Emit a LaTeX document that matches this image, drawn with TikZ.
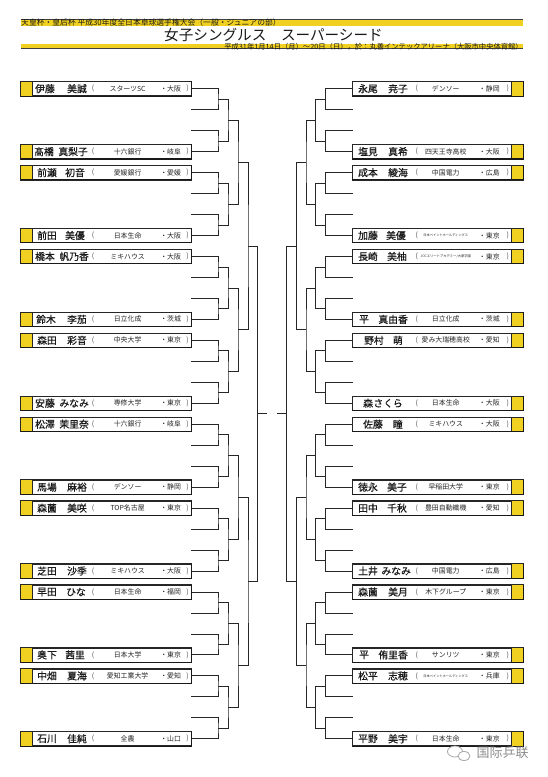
\documentclass[tikz,border=0pt]{standalone}
\usepackage{fontspec}
\setmainfont{Noto Sans CJK JP}
\newfontfamily\namefont[FakeBold=0.6]{Noto Sans CJK JP}
\newfontfamily\scfont{Noto Sans CJK SC}
\usetikzlibrary{calc}
\definecolor{ybox}{RGB}{240,208,32}
\newcommand\fsz[1]{\fontsize{#1}{#1}\selectfont}

% slot, family, given, team, pref, name-left x, name-right x
\newcommand\LPlayer[7]{%
  \pgfmathsetmacro\yy{88.7+20.97*#1}%
  \node[pbox] (Lb#1) at (106.2,\yy) {};
  \fill[ybox] (Lb#1.north west) rectangle ([xshift=11.3pt]Lb#1.south west);
  \draw[edge] ([xshift=11.3pt]Lb#1.north west) -- ([xshift=11.3pt]Lb#1.south west);
  \draw[edge] (Lb#1.north west) rectangle (Lb#1.south east);
  \draw[shadowedge] (Lb#1.south west) -- (Lb#1.south east) -- (Lb#1.north east);
  \node[namet, anchor=west] (Lf#1) at (#6,\yy) {#2};
  \node[namet, anchor=east] (Lg#1) at (#7,\yy) {#3};
  \node[parent] (Lo#1) at ([xshift=72.5pt]Lb#1.west) {(};
  \node[smt] (Lt#1) at ([xshift=107pt]Lb#1.west) {#4};
  \node[smt, anchor=west] (Lp#1) at ([xshift=139.5pt]Lb#1.west) {・#5};
  \node[parent] (Lc#1) at ([xshift=167pt]Lb#1.west) {)};
}
\newcommand\RPlayer[7]{%
  \pgfmathsetmacro\yy{88.7+20.97*#1}%
  \node[pbox] (Rb#1) at (437.85,\yy) {};
  \fill[ybox] ([xshift=-12.3pt]Rb#1.north east) rectangle (Rb#1.south east);
  \draw[edge] ([xshift=-12.3pt]Rb#1.north east) -- ([xshift=-12.3pt]Rb#1.south east);
  \draw[edge] (Rb#1.north west) rectangle (Rb#1.south east);
  \draw[shadowedge] (Rb#1.south west) -- (Rb#1.south east) -- (Rb#1.north east);
  \node[namet, anchor=west] (Rf#1) at (#6,\yy) {#2};
  \node[namet, anchor=east] (Rg#1) at (#7,\yy) {#3};
  \node[parent] (Ro#1) at ([xshift=64.5pt]Rb#1.west) {(};
  \node[smt] (Rt#1) at ([xshift=93.5pt]Rb#1.west) {#4};
  \node[smt, anchor=west] (Rp#1) at ([xshift=126.5pt]Rb#1.west) {・#5};
  \node[parent] (Rc#1) at ([xshift=155.5pt]Rb#1.west) {)};
}

\begin{document}
\begin{tikzpicture}[x=1pt,y=-1pt,
  br/.style={draw=black!85, line width=0.8pt},
  edge/.style={draw=black!85, line width=0.7pt},
  shadowedge/.style={draw=black!90, line width=1.1pt},
  pbox/.style={draw=black!85, fill=white, line width=0.7pt, minimum width=170.5pt, minimum height=14pt, inner sep=0pt},
  namet/.style={font=\namefont\fsz{9.8}, inner sep=0pt, text=black!90},
  smt/.style={font=\fsz{6.9}, inner sep=0pt, text=black!85},
  parent/.style={font=\fsz{7}, inner sep=0pt, text=black!70},
]
\useasboundingbox[fill=white] (0,0) rectangle (548,777);

% ---------- header ----------
\node[fill=ybox, minimum width=502pt, minimum height=6.7pt, inner sep=0pt, anchor=north west] (band1) at (21,19) {};
\draw[black!75, line width=1pt] (band1.north west) -- (band1.north east);
\node[anchor=west, inner sep=0pt, font=\fsz{7.8}, text=black!90] (h1) at (21,22.6) {天皇杯・皇后杯 平成30年度全日本卓球選手権大会（一般・ジュニアの部）};
\node[inner sep=0pt, font=\fsz{14.6}, text=black!90] (title) at (273.5,35.3) {女子シングルス　スーパーシード};
\node[fill=ybox, minimum width=502pt, minimum height=5pt, inner sep=0pt, anchor=north west] (band2) at (21,43.3) {};
\draw[black!75, line width=1pt] (band2.south west) -- (band2.south east);
\node[anchor=east, inner sep=0pt, font=\fsz{7.3}, text=black!90] (h2) at (523,46.4) {平成31年1月14日（月）～20日（日），於：丸善インテックアリーナ（大阪市中央体育館）};

% ---------- slot coordinates ----------
\foreach \i in {0,...,31}{
  \coordinate (Ls\i) at (191.45,{88.7+20.97*\i});
  \coordinate (Rs\i) at (352.6,{88.7+20.97*\i});
}
\foreach \j in {0,...,15}{
  \coordinate (L1-\j) at (218,{88.7+20.97*(2*\j+0.5)});
  \coordinate (R1-\j) at (325.5,{88.7+20.97*(2*\j+0.5)});
}
\foreach \j in {0,...,7}{
  \coordinate (L2-\j) at (228,{88.7+20.97*(4*\j+1.5)});
  \coordinate (R2-\j) at (315.5,{88.7+20.97*(4*\j+1.5)});
}
\foreach \j in {0,...,3}{
  \coordinate (L3-\j) at (238,{88.7+20.97*(8*\j+3.5)});
  \coordinate (R3-\j) at (306,{88.7+20.97*(8*\j+3.5)});
}
\foreach \j in {0,1}{
  \coordinate (L4-\j) at (248,{88.7+20.97*(16*\j+7.5)});
  \coordinate (R4-\j) at (296.7,{88.7+20.97*(16*\j+7.5)});
}
\coordinate (L5) at (257.5,{88.7+20.97*15.5});
\coordinate (R5) at (286.7,{88.7+20.97*15.5});
\coordinate (Lend) at (267.3,{88.7+20.97*15.5});
\coordinate (Rend) at (276.7,{88.7+20.97*15.5});

% ---------- bracket ----------
\foreach \j in {0,...,15}{
  \pgfmathtruncatemacro\a{2*\j}\pgfmathtruncatemacro\b{2*\j+1}
  \draw[br] (Ls\a) -| (L1-\j) |- (Ls\b);
  \draw[br] (Rs\a) -| (R1-\j) |- (Rs\b);
}
\foreach \j in {0,...,7}{
  \pgfmathtruncatemacro\a{2*\j}\pgfmathtruncatemacro\b{2*\j+1}
  \draw[br] (L1-\a) -| (L2-\j) |- (L1-\b);
  \draw[br] (R1-\a) -| (R2-\j) |- (R1-\b);
}
\foreach \j in {0,...,3}{
  \pgfmathtruncatemacro\a{2*\j}\pgfmathtruncatemacro\b{2*\j+1}
  \draw[br] (L2-\a) -| (L3-\j) |- (L2-\b);
  \draw[br] (R2-\a) -| (R3-\j) |- (R2-\b);
}
\foreach \j in {0,1}{
  \pgfmathtruncatemacro\a{2*\j}\pgfmathtruncatemacro\b{2*\j+1}
  \draw[br] (L3-\a) -| (L4-\j) |- (L3-\b);
  \draw[br] (R3-\a) -| (R4-\j) |- (R3-\b);
}
\draw[br] (L4-0) -| (L5) |- (L4-1);
\draw[br] (R4-0) -| (R5) |- (R4-1);
\draw[br] (L5) -- (Lend);
\draw[br] (R5) -- (Rend);

% ---------- left players ----------
\LPlayer{0}{伊藤}{美誠}{スターツSC}{大阪}{35}{87}
\LPlayer{3}{髙橋}{真梨子}{十六銀行}{岐阜}{34}{88}
\LPlayer{4}{前瀬}{初音}{愛媛銀行}{愛媛}{37}{85}
\LPlayer{7}{前田}{美優}{日本生命}{大阪}{37}{85}
\LPlayer{8}{橋本}{帆乃香}{ミキハウス}{大阪}{35}{89}
\LPlayer{11}{鈴木}{李茄}{日立化成}{茨城}{36}{87}
\LPlayer{12}{森田}{彩音}{中央大学}{東京}{37}{87}
\LPlayer{15}{安藤}{みなみ}{専修大学}{東京}{35}{89}
\LPlayer{16}{松澤}{茉里奈}{十六銀行}{岐阜}{35}{89}
\LPlayer{19}{馬場}{麻裕}{デンソー}{静岡}{37}{87}
\LPlayer{20}{森薗}{美咲}{TOP名古屋}{東京}{37}{87}
\LPlayer{23}{芝田}{沙季}{ミキハウス}{大阪}{37}{87}
\LPlayer{24}{早田}{ひな}{日本生命}{福岡}{37}{86}
\LPlayer{27}{奥下}{茜里}{日本大学}{東京}{37}{85}
\LPlayer{28}{中畑}{夏海}{愛知工業大学}{愛知}{37}{87}
\LPlayer{31}{石川}{佳純}{全農}{山口}{37}{87}

% ---------- right players ----------
\RPlayer{0}{永尾}{尭子}{デンソー}{静岡}{358}{408}
\RPlayer{3}{塩見}{真希}{四天王寺高校}{大阪}{358}{408}
\RPlayer{4}{成本}{綾海}{中国電力}{広島}{358}{408}
\RPlayer{7}{加藤}{美優}{\fsz{3.2}日本ペイントホールディングス}{東京}{358}{406}
\RPlayer{8}{長崎}{美柚}{\fsz{3.3}JOCエリートアカデミー/大原学園}{東京}{358}{407}
\RPlayer{11}{平}{真由香}{日立化成}{茨城}{359}{408}
\RPlayer{12}{野村}{萌}{愛み大瑞穂高校}{愛知}{364}{403}
\RPlayer{15}{森}{さくら}{日本生命}{大阪}{363}{403}
\RPlayer{16}{佐藤}{瞳}{ミキハウス}{大阪}{363}{403}
\RPlayer{19}{徳永}{美子}{早稲田大学}{東京}{358}{407}
\RPlayer{20}{田中}{千秋}{豊田自動織機}{愛知}{358}{407}
\RPlayer{23}{土井}{みなみ}{中国電力}{広島}{358}{411}
\RPlayer{24}{森薗}{美月}{木下グループ}{東京}{358}{408}
\RPlayer{27}{平}{侑里香}{サンリツ}{東京}{359}{408}
\RPlayer{28}{松平}{志穂}{\fsz{3.2}日本ペイントホールディングス}{兵庫}{358}{408}
\RPlayer{31}{平野}{美宇}{日本生命}{東京}{358}{408}

% ---------- watermark ----------
\draw[black!35, line width=0.8pt, fill=white] (455,751.5) ellipse (7.5 and 5.5);
\draw[black!35, line width=0.8pt, fill=white] (464,756) ellipse (6 and 4.5);
\node[inner sep=0pt, font=\scfont\fsz{13}, text=black!45] (wm) at (502.5,753) {国际乒联};
\end{tikzpicture}
\end{document}
